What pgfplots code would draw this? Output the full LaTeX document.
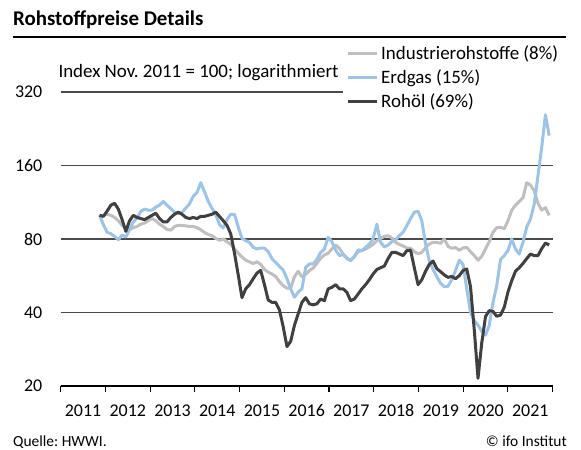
\documentclass[border=0pt]{standalone}
\usepackage{fontspec}
\setmainfont{Carlito}
\usepackage{pgfplots}
\pgfplotsset{compat=1.18}
\usepackage{pgfplotstable}
\definecolor{cgas}{HTML}{9DC3E6}
\definecolor{cind}{HTML}{BFBFBF}
\definecolor{coil}{HTML}{404040}
\definecolor{cgrid}{HTML}{4A4A4A}
\frenchspacing

\pgfplotstableread{
k oil gas ind
0 100 100 100
1 99 91.6 100
2 104 85.1 101
3 110 84.1 100
4 112 82 98
5 106 79.5 95
6 96 83 91
7 86 81.5 88.5
8 95 87.3 87.5
9 100 94 89
10 98 97.5 90
11 97 103.8 92
12 96 106 93
13 98 105 95
14 100 105 97
15 102 108 95
16 97 110 92
17 94 114 90
18 94 110 87.5
19 98 106.5 87
20 101 103 90
21 103 101.5 91
22 101 102.8 91
23 98 107 90.5
24 97 111.5 90
25 98 119.6 90
26 97 124 89
27 99 136 87.3
28 99 125 85
29 100 114 83.5
30 101 107 82.5
31 103 100.6 80.5
32 99 91.6 79
33 95 88.7 80
34 91 96 78
35 84 101 76
36 70 101 73
37 57 89.6 70
38 46 80.5 67.5
39 50 78.7 65.5
40 52 77.5 64.5
41 55 74 63.5
42 58 72.8 64.5
43 59.5 73.5 63
44 52 73.3 60
45 45 71 58.5
46 44 66.5 57.5
47 44 64.2 56.2
48 41 61.8 53.5
49 35 59.7 51.5
50 29 55 50.3
51 30.5 50 50.3
52 35.4 46.2 56
53 39.5 48.4 59
54 44 50 56
55 46 61.2 57.3
56 43.4 63.2 59.4
57 43 63.2 60.8
58 43.4 66 63.6
59 45.4 70.5 66.7
60 44.7 72.8 68.8
61 50 81.3 70
62 50.7 78 72.8
63 52 72 75.6
64 50 68.4 73.3
65 50 69.2 69.4
66 48.4 66.5 66.9
67 44.7 65.3 65.2
68 45.4 67.8 67.8
69 47.6 72.2 71
70 50 71.7 71.7
71 52 73.9 72.8
72 54.5 76.3 74.2
73 57.5 80 76
74 60 92 78.8
75 61 77.5 80.5
76 62 74.3 82
77 66.5 75.5 82.5
78 70.5 78 80.8
79 70.5 79.5 77.5
80 69.5 82.5 76
81 68.4 85.2 74.9
82 71.7 90.7 73.5
83 72 97 73.3
84 61 103 71
85 52 104 69.6
86 54.5 95 70.5
87 59 76.3 73.7
88 63 65.2 76.3
89 65 60 77.5
90 60.5 56 77.5
91 58.8 52.7 76.8
92 57 51 80
93 55.7 51.2 74.6
94 56.2 54.5 73.3
95 55 59.4 73.8
96 56.6 65.5 71.9
97 59.4 63 73.5
98 60.3 50 73.9
99 51 40 71
100 34 37 68.4
101 21.5 35.5 65.5
102 30 33.5 68
103 38.5 32.3 72.8
104 40.7 35.4 78
105 40.4 44 85.2
106 38.6 51.5 89
107 39 65.8 89.4
108 42 68.4 88
109 48.5 71.7 95
110 54 80 105
111 59 72.8 110
112 61 69.4 114
113 63.5 77.5 118
114 66.5 89.5 136
115 69.4 96.5 133
116 68.4 111 126
117 68.4 145 112
118 73 190 105
119 77 258 107.5
120 75.6 212 100
}\rohdata

\begin{document}
\begin{tikzpicture}[x=1bp,y=1bp]
\path[use as bounding box] (0,0) rectangle (581,450);
\node[anchor=base west, inner sep=0pt, font=\fontsize{21}{24}\selectfont\bfseries] at (13,424) {Rohstoffpreise Details};
\draw[line width=1.5bp] (13,413) -- (566,413);
\node[anchor=base west, inner sep=0pt, font=\fontsize{19}{22}\selectfont] at (58.3,372.7) {Index Nov.\ 2011 = 100; logarithmiert};
\node[anchor=base west, inner sep=0pt, font=\fontsize{15.5}{18}\selectfont] at (13,3.5) {Quelle: HWWI.};
\node[anchor=base east, inner sep=0pt, font=\fontsize{15.5}{18}\selectfont] at (567,3.5) {© ifo Institut};

\begin{axis}[
  at={(60.7bp,64bp)}, anchor=south west,
  scale only axis, width=491.9bp, height=294bp,
  ymode=log, log basis y=2,
  ymin=20, ymax=320, xmin=2011, xmax=2022,
  axis lines*=left,
  y axis line style={draw=none},
  x axis line style={line width=1.2bp, black},
  ytick={20,40,80,160,320},
  yticklabels={20,40,80,160,320},
  xtick={2011.5,2012.5,2013.5,2014.5,2015.5,2016.5,2017.5,2018.5,2019.5,2020.5,2021.5},
  xticklabels={2011,2012,2013,2014,2015,2016,2017,2018,2019,2020,2021},
  minor xtick={2011,2012,2013,2014,2015,2016,2017,2018,2019,2020,2021,2022},
  tick align=outside,
  major tick length=0pt,
  minor tick length=6bp,
  minor x tick style={line width=1.2bp, black},
  major tick style={draw=none},
  ymajorgrids,
  major grid style={cgrid, line width=1.1bp},
  /pgf/number format/assume math mode=true,
  tick label style={font=\fontsize{18}{20}\selectfont, inner sep=0pt},
  yticklabel style={anchor=east, xshift=-18.2bp},
  xticklabel style={anchor=north, yshift=-18.3bp},
  legend cell align=left,
  legend style={at={(0.5733,1.1724)}, anchor=north west, draw=none, fill=white,
    inner xsep=4bp, inner ysep=0pt, row sep=0pt,
    font=\fontsize{19}{22}\selectfont,
    nodes={inner xsep=3bp, inner ysep=0pt, text height=18bp, text depth=6bp}},
  legend image code/.code={\draw[#1] (0bp,0bp) -- (28.3bp,0bp);},
  every axis plot/.append style={line width=3bp, line join=round},
]
\addplot[cind] table[x expr=2011.87+\thisrow{k}*0.08378, y=ind] {\rohdata};
\addlegendentry{Industrierohstoffe (8\%)}
\addplot[cgas] table[x expr=2011.87+\thisrow{k}*0.08378, y=gas] {\rohdata};
\addlegendentry{Erdgas (15\%)}
\addplot[coil] table[x expr=2011.87+\thisrow{k}*0.08378, y=oil] {\rohdata};
\addlegendentry{Rohöl (69\%)}
\end{axis}
\end{tikzpicture}
\end{document}
